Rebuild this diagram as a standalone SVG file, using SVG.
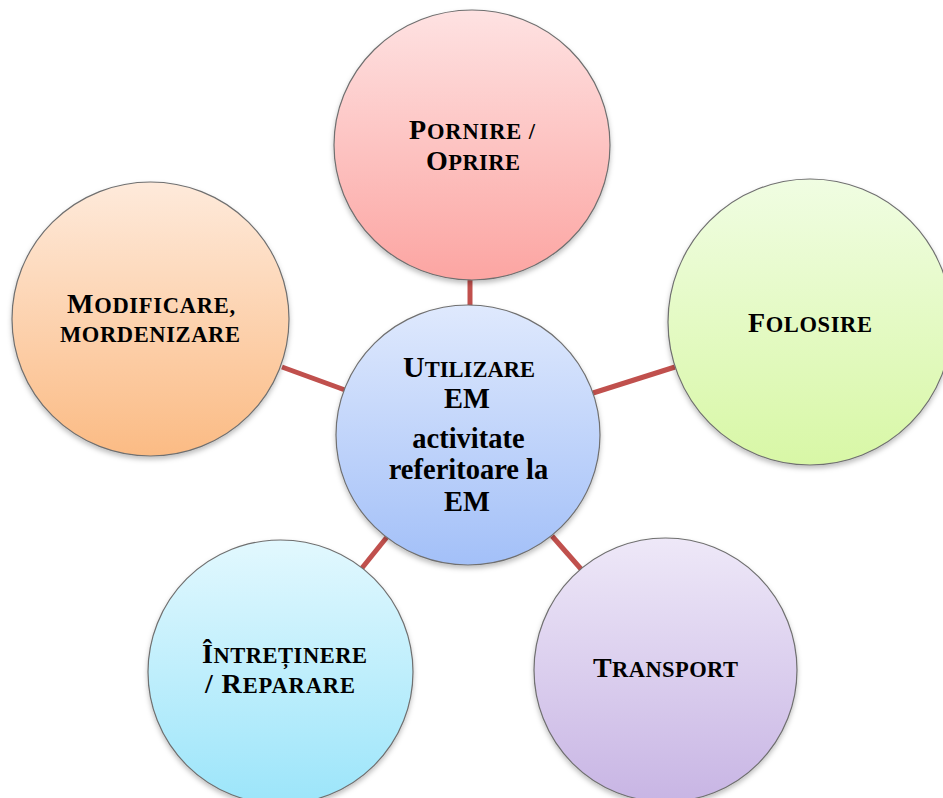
<svg xmlns="http://www.w3.org/2000/svg" width="943" height="798" viewBox="0 0 943 798">
<defs>
<linearGradient id="gRed" x1="0" y1="0" x2="0" y2="1"><stop offset="0" stop-color="#fee2e2"/><stop offset="1" stop-color="#fca5a2"/></linearGradient>
<linearGradient id="gOrange" x1="0" y1="0" x2="0" y2="1"><stop offset="0" stop-color="#feeadb"/><stop offset="1" stop-color="#fbbb84"/></linearGradient>
<linearGradient id="gGreen" x1="0" y1="0" x2="0" y2="1"><stop offset="0" stop-color="#f0fde2"/><stop offset="1" stop-color="#d8f7a6"/></linearGradient>
<linearGradient id="gBlue" x1="0" y1="0" x2="0" y2="1"><stop offset="0" stop-color="#dfe9fd"/><stop offset="1" stop-color="#a3c0f8"/></linearGradient>
<linearGradient id="gCyan" x1="0" y1="0" x2="0" y2="1"><stop offset="0" stop-color="#e2f8fe"/><stop offset="1" stop-color="#9ce5fa"/></linearGradient>
<linearGradient id="gPurple" x1="0" y1="0" x2="0" y2="1"><stop offset="0" stop-color="#eee8f8"/><stop offset="1" stop-color="#c8b5e4"/></linearGradient>
<filter id="sh" x="-10%" y="-10%" width="120%" height="125%"><feDropShadow dx="0" dy="3" stdDeviation="2.5" flood-color="#000" flood-opacity="0.25"/></filter>
</defs>
<style>
.node{stroke:#6f6f6f;stroke-width:1.2;filter:url(#sh)}
.conn{stroke:#c0504d;stroke-width:5;stroke-linecap:butt}
.t{font-family:"Liberation Serif","Times New Roman",serif;font-weight:bold;fill:#000;text-anchor:middle}
.cap{font-size:28px}
.sc{font-size:22.5px}
.c{font-size:28.5px}
</style>
<rect width="943" height="798" fill="#fff"/>
<g id="connectors">
<line class="conn" x1="470" y1="278" x2="470" y2="306"/>
<line class="conn" x1="282" y1="367" x2="345" y2="390"/>
<line class="conn" x1="593" y1="393" x2="675" y2="367"/>
<line class="conn" x1="362" y1="568" x2="387" y2="537"/>
<line class="conn" x1="552" y1="536" x2="581" y2="569"/>
</g>
<g id="node-pornire">
<ellipse class="node" cx="472" cy="145" rx="138" ry="135" fill="url(#gRed)"/>
<text class="t" x="472" y="139" textLength="126" lengthAdjust="spacing"><tspan class="cap">P</tspan><tspan class="sc">ORNIRE /</tspan></text>
<text class="t" x="473" y="170" textLength="94" lengthAdjust="spacing"><tspan class="cap">O</tspan><tspan class="sc">PRIRE</tspan></text>
</g>
<g id="node-modificare">
<ellipse class="node" cx="150.5" cy="319" rx="138.5" ry="137" fill="url(#gOrange)"/>
<text class="t" x="151" y="313" textLength="168" lengthAdjust="spacing"><tspan class="cap">M</tspan><tspan class="sc">ODIFICARE,</tspan></text>
<text class="t" x="150" y="342" textLength="180" lengthAdjust="spacing"><tspan class="sc">MORDENIZARE</tspan></text>
</g>
<g id="node-folosire">
<ellipse class="node" cx="810" cy="322" rx="142" ry="143" fill="url(#gGreen)"/>
<text class="t" x="810" y="332" textLength="124" lengthAdjust="spacing"><tspan class="cap">F</tspan><tspan class="sc">OLOSIRE</tspan></text>
</g>
<g id="node-intretinere">
<ellipse class="node" cx="280.5" cy="672" rx="132.5" ry="132" fill="url(#gCyan)"/>
<text class="t" x="284.5" y="663" textLength="165" lengthAdjust="spacing"><tspan class="cap">Î</tspan><tspan class="sc">NTREȚINERE</tspan></text>
<text class="t" x="280" y="693" textLength="150" lengthAdjust="spacing"><tspan class="cap">/ R</tspan><tspan class="sc">EPARARE</tspan></text>
</g>
<g id="node-transport">
<ellipse class="node" cx="665.5" cy="670" rx="131.5" ry="132" fill="url(#gPurple)"/>
<text class="t" x="665.5" y="677" textLength="145" lengthAdjust="spacing"><tspan class="cap">T</tspan><tspan class="sc">RANSPORT</tspan></text>
</g>
<g id="node-utilizare">
<ellipse class="node" cx="468" cy="435" rx="132" ry="130" fill="url(#gBlue)"/>
<text class="t" x="469" y="377" textLength="132" lengthAdjust="spacing"><tspan style="font-size:30px">U</tspan><tspan style="font-size:22.5px">TILIZARE</tspan></text>
<text class="t c" x="467" y="408">EM</text>
<text class="t c" x="468.5" y="447.5">activitate</text>
<text class="t c" x="468.5" y="479">referitoare la</text>
<text class="t c" x="467" y="510.5">EM</text>
</g>
</svg>
